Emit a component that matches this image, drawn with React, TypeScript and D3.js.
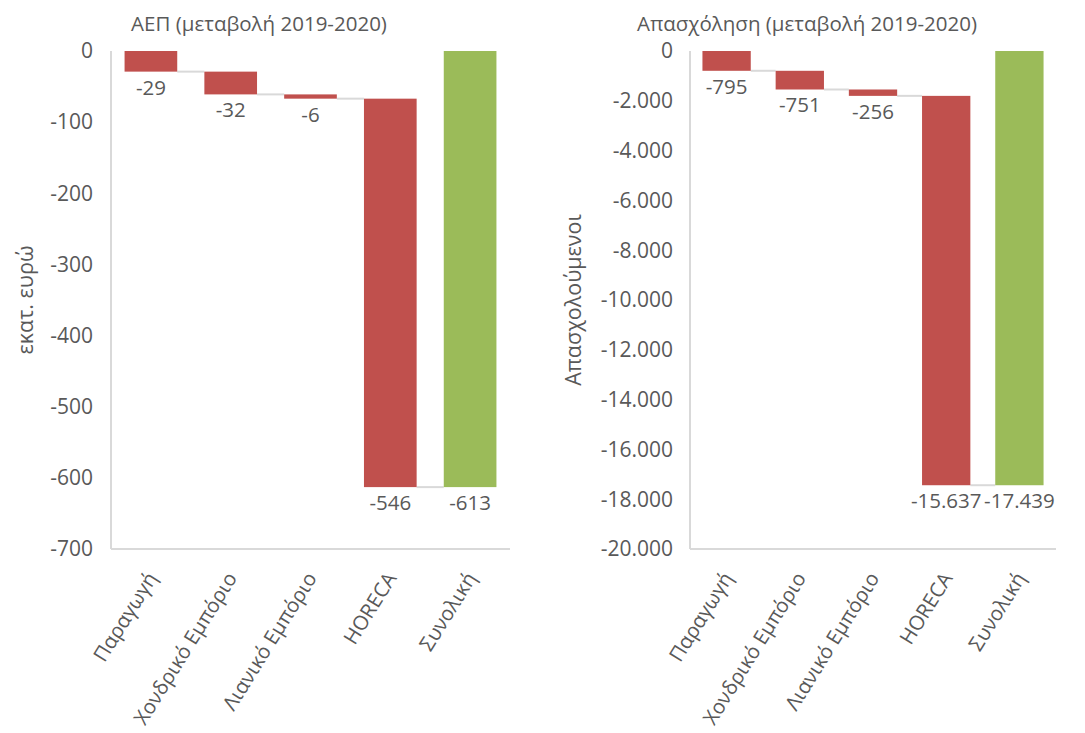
import React from "react";
import * as d3 from "d3";

const categories = ["Παραγωγή", "Χονδρικό Εμπόριο", "Λιανικό Εμπόριο", "HORECA", "Συνολική"];
const gdpChanges = [-29, -32, -6, -546];
const gdpTotal = -613;
const empChanges = [-795, -751, -256, -15637];
const empTotal = -17439;
const gdpTicks = [0, -100, -200, -300, -400, -500, -600, -700];
const empTicks = [0, -2000, -4000, -6000, -8000, -10000, -12000, -14000, -16000, -18000, -20000];

const RED = "#C0504D";
const GREEN = "#9BBB59";
const GRID = "#D9D9D9";
const TEXT = "#595959";
const FONT = "'Open Sans', sans-serif";

const loc = d3.formatLocale({ decimal: ",", thousands: ".", grouping: [3], currency: ["", "€"], minus: "-" } as any);
const fmt = loc.format(",d");

type PanelProps = {
  title: string;
  yLabel: string;
  changes: number[];
  total: number;
  ticks: number[];
  x0: number;
  x1: number;
  titleX: number;
  yLabelX: number;
  tickX: number;
};

function Panel({ title, yLabel, changes, total, ticks, x0, x1, titleX, yLabelX, tickX }: PanelProps) {
  const y = d3.scaleLinear().domain([d3.min(ticks)!, 0]).range([549, 51]);
  const x = d3.scaleBand<string>().domain(categories).range([x0, x1]).paddingInner(0.34).paddingOuter(0.17);
  const bars: { cat: string; start: number; end: number; value: number; total: boolean }[] = [];
  let cum = 0;
  changes.forEach((v, i) => {
    bars.push({ cat: categories[i], start: cum, end: cum + v, value: v, total: false });
    cum += v;
  });
  bars.push({ cat: categories[4], start: 0, end: total, value: total, total: true });
  const bw = x.bandwidth();
  return (
    <g>
      <text x={titleX} y={31} textAnchor="middle" fontSize={20.5} fill={TEXT} fontFamily={FONT}>{title}</text>
      <text transform={`translate(${yLabelX},${300}) rotate(-90)`} textAnchor="middle" fontSize={21.5} fill={TEXT} fontFamily={FONT}>{yLabel}</text>
      {ticks.map((t) => (
        <text key={t} x={tickX} y={y(t)} dy="0.35em" textAnchor="end" fontSize={21} fill={TEXT} fontFamily={FONT}>{fmt(t)}</text>
      ))}
      <line x1={x0} x2={x0} y1={y(0)} y2={549} stroke={GRID} strokeWidth={2} />
      <line x1={x0} x2={x1} y1={549} y2={549} stroke={GRID} strokeWidth={2} />
      {bars.slice(0, -1).map((b, i) => (
        <line key={"c" + i} x1={x(b.cat)! + bw} x2={x(bars[i + 1].cat)!} y1={y(b.end)} y2={y(b.end)} stroke={GRID} strokeWidth={2} />
      ))}
      {bars.map((b) => (
        <rect key={b.cat} x={x(b.cat)} width={bw} y={y(Math.max(b.start, b.end))} height={Math.abs(y(b.end) - y(b.start))} fill={b.total ? GREEN : RED} />
      ))}
      {bars.map((b) => (
        <text key={"l" + b.cat} x={x(b.cat)! + bw / 2} y={y(Math.min(b.start, b.end)) + 23} textAnchor="middle" fontSize={20.5} fill={TEXT} fontFamily={FONT}>{fmt(b.value)}</text>
      ))}
      {categories.map((c) => (
        <text key={"x" + c} transform={`translate(${x(c)! + bw / 2 + 7},${578}) rotate(-58)`} textAnchor="end" fontSize={20.3} fill={TEXT} fontFamily={FONT}>{c}</text>
      ))}
    </g>
  );
}

export default function App() {
  return (
    <svg width={1085} height={733} style={{ position: "absolute", left: 0, top: 0, background: "#fff" }}>
      <rect width={1085} height={733} fill="#fff" />
      <Panel title="ΑΕΠ (μεταβολή 2019-2020)" yLabel="εκατ. ευρώ" changes={gdpChanges} total={gdpTotal} ticks={gdpTicks}
        x0={111} x1={510} titleX={259} yLabelX={33} tickX={93} />
      <Panel title="Απασχόληση (μεταβολή 2019-2020)" yLabel="Απασχολούμενοι" changes={empChanges} total={empTotal} ticks={empTicks}
        x0={690} x1={1056} titleX={807} yLabelX={581} tickX={673} />
    </svg>
  );
}
